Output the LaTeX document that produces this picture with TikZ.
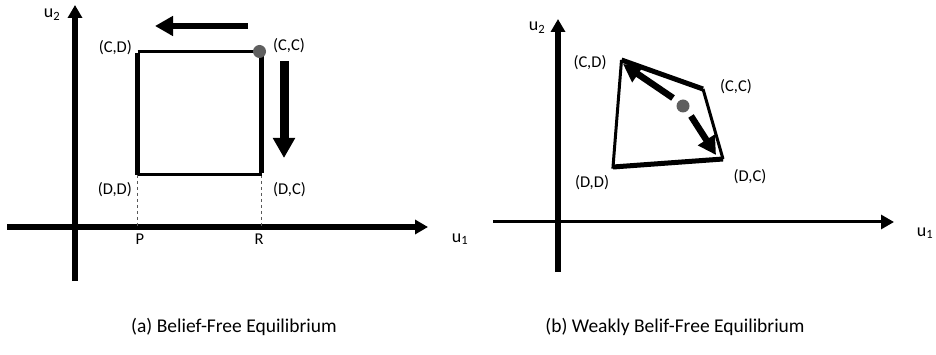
\documentclass[tikz,border=0pt]{standalone}
\usepackage{fontspec}
\setmainfont{Carlito}
\usetikzlibrary{arrows.meta,positioning}
\definecolor{dotgray}{RGB}{95,95,95}

\begin{document}
\begin{tikzpicture}[
  x=1pt,y=-1pt,
  font=\fontsize{16.5}{19}\selectfont,
  axis/.style={line width=5.5pt,-{Triangle[length=13pt,width=14pt]}},
  thinaxis/.style={line width=3pt,-{Triangle[length=13pt,width=14pt]}},
  move/.style={line width=6.5pt,-{Triangle[length=18pt,width=19pt]}},
  bigmove/.style={line width=9pt,-{Triangle[length=20pt,width=21pt]}},
  dot/.style={circle,fill=dotgray,inner sep=0pt,minimum size=13pt},
  lbl/.style={inner sep=1pt},
  axlbl/.style={inner sep=1pt,font=\fontsize{18}{20}\selectfont},
  caption/.style={font=\fontsize{19.5}{22}\selectfont}
]
  \useasboundingbox (0,0) rectangle (936,355);

  % (a) belief-free
  \coordinate (aX0) at (7,227);
  \coordinate (aX1) at (428,227);
  \coordinate (aY0) at (75,281);
  \coordinate (aY1) at (75,5);
  \coordinate (aCD) at (137.5,51.5);
  \coordinate (aCC) at (261.5,51.5);
  \coordinate (aDC) at (261.5,175);
  \coordinate (aDD) at (137.5,175);
  \coordinate (aP) at (137.5,227);
  \coordinate (aR) at (261.5,227);

  \draw[axis] (aX0) -- (aX1);
  \draw[axis] (aY0) -- (aY1);
  \draw[dashed,gray!70!black,thin] (aDD) -- (aP);
  \draw[dashed,gray!70!black,thin] (aDC) -- (aR);

  \draw[line width=3pt] (aCD) -- (aCC);
  \draw[line width=3pt] (aDD) -- (aDC);
  \draw[line width=4.5pt] (aDD) -- ([yshift=-1.5pt]aCD);
  \draw[line width=5pt] ([yshift=1.5pt]aDC) -- (aCC);
  \node[dot] (adot) at ([xshift=-2pt]aCC) {};

  \coordinate (aL0) at (248,26);
  \coordinate (aL1) at (155,26);
  \draw[move] (aL0) -- (aL1);
  \coordinate (aD0) at (284,61);
  \coordinate (aD1) at (284,158);
  \draw[bigmove] (aD0) -- (aD1);

  \node[lbl,anchor=east] (acd) at (133,48) {(C,D)};
  \node[lbl,anchor=west] (acc) at (272,46) {(C,C)};
  \node[lbl,anchor=east] (add) at (133,190) {(D,D)};
  \node[lbl,anchor=west] (adc) at (272,190) {(D,C)};
  \node[lbl] (ap) at (140,239) {P};
  \node[lbl] (ar) at (259,239) {R};
  \node[axlbl] (au2) at (52,15) {u\textsubscript{2}};
  \node[axlbl] (au1) at (460,239) {u\textsubscript{1}};

  \node[caption] (capa) at (234,327) {(a) Belief-Free Equilibrium};

  % (b) weakly belief-free
  \coordinate (bX0) at (493,222);
  \coordinate (bX1) at (894,222);
  \coordinate (bY0) at (558,272);
  \coordinate (bY1) at (558,19);
  \coordinate (bCD) at (621.5,60);
  \coordinate (bCC) at (703,89);
  \coordinate (bDC) at (723,159);
  \coordinate (bDD) at (613,167);

  \draw[thinaxis] (bX0) -- (bX1);
  \draw[axis] (bY0) -- (bY1);

  \draw[line width=3pt,line join=miter] (bCD) -- (bDD) -- (bDC);
  \draw[line width=3pt] (bCC) -- (bDC);
  \draw[line width=5pt] (bCD) -- (bCC);
  \draw[line width=5pt] (bDD) -- (bDC);

  \node[dot] (bdot) at (683,106) {};
  \coordinate (bA0) at (673,98);
  \coordinate (bA1) at (623,64);
  \coordinate (bB0) at (691,116);
  \coordinate (bB1) at (716,155);
  \draw[move] (bA0) -- (bA1);
  \draw[move] (bB0) -- (bB1);

  \node[lbl] (bcd) at (590,63) {(C,D)};
  \node[lbl] (bcc) at (736,87) {(C,C)};
  \node[lbl] (bdd) at (592,183) {(D,D)};
  \node[lbl] (bdc) at (750,177) {(D,C)};
  \node[axlbl] (bu2) at (537,28) {u\textsubscript{2}};
  \node[axlbl] (bu1) at (925,233) {u\textsubscript{1}};

  \node[caption] (capb) at (675,327) {(b) Weakly Belif-Free Equilibrium};
\end{tikzpicture}
\end{document}
